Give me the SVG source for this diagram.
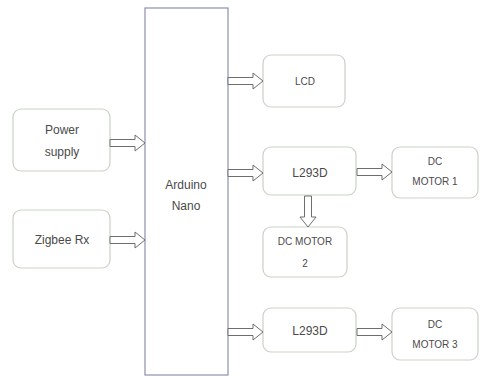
<svg xmlns="http://www.w3.org/2000/svg" width="481" height="377" viewBox="0 0 481 377">
<defs>
<style>
.box{fill:#ffffff;stroke:#c9d3c3;stroke-width:1.2}
.main{fill:#ffffff;stroke:#8c90b0;stroke-width:1.2}
.t{font-family:"Liberation Sans",Arial,sans-serif;font-size:12px;fill:#4a4a4a;text-anchor:middle}
.s{font-size:10px}
.arr{fill:#ffffff;stroke:#6e6e6e;stroke-width:1}
</style>
<path id="ra" d="M0,-3.5 H25 V-8 L35,0 L25,8 V3.5 H0 Z"/>
</defs>
<rect width="481" height="377" fill="#ffffff"/>
<g id="arduino"><rect class="main" x="145" y="8" width="83" height="367"/>
<text class="t" x="186" y="189">Arduino</text><text class="t" x="186" y="210">Nano</text></g>
<g id="power"><rect class="box" x="13" y="109" width="97" height="62" rx="8"/>
<text class="t" x="62" y="134">Power</text><text class="t" x="62" y="156">supply</text></g>
<g id="zigbee"><rect class="box" x="13" y="210" width="97" height="58" rx="8"/>
<text class="t" x="62" y="244">Zigbee Rx</text></g>
<g id="lcd"><rect class="box" x="263" y="55" width="82" height="52" rx="8"/>
<text class="t s" x="305" y="85">LCD</text></g>
<g id="l293d1"><rect class="box" x="263" y="147" width="93" height="48" rx="8"/>
<text class="t" x="310" y="177">L293D</text></g>
<g id="motor1"><rect class="box" x="392" y="147" width="86" height="51" rx="8"/>
<text class="t s" x="435" y="165">DC</text><text class="t s" x="435" y="185">MOTOR 1</text></g>
<g id="motor2"><rect class="box" x="263" y="227" width="84" height="50" rx="8"/>
<text class="t s" x="305" y="245">DC MOTOR</text><text class="t s" x="305" y="267">2</text></g>
<g id="l293d2"><rect class="box" x="263" y="308" width="93" height="44" rx="8"/>
<text class="t" x="310" y="335">L293D</text></g>
<g id="motor3"><rect class="box" x="392" y="308" width="86" height="52" rx="8"/>
<text class="t s" x="435" y="328">DC</text><text class="t s" x="435" y="348">MOTOR 3</text></g>
<g id="connectors">
<use href="#ra" class="arr" x="110" y="143"/>
<use href="#ra" class="arr" x="110" y="240"/>
<use href="#ra" class="arr" x="228" y="81"/>
<use href="#ra" class="arr" x="228" y="173"/>
<use href="#ra" class="arr" x="228" y="332"/>
<use href="#ra" class="arr" x="357" y="172"/>
<use href="#ra" class="arr" x="357" y="332"/>
<path class="arr" d="M304.5,196 V217 H300 L308,227 L316,217 H311.5 V196 Z"/>
</g>
</svg>
